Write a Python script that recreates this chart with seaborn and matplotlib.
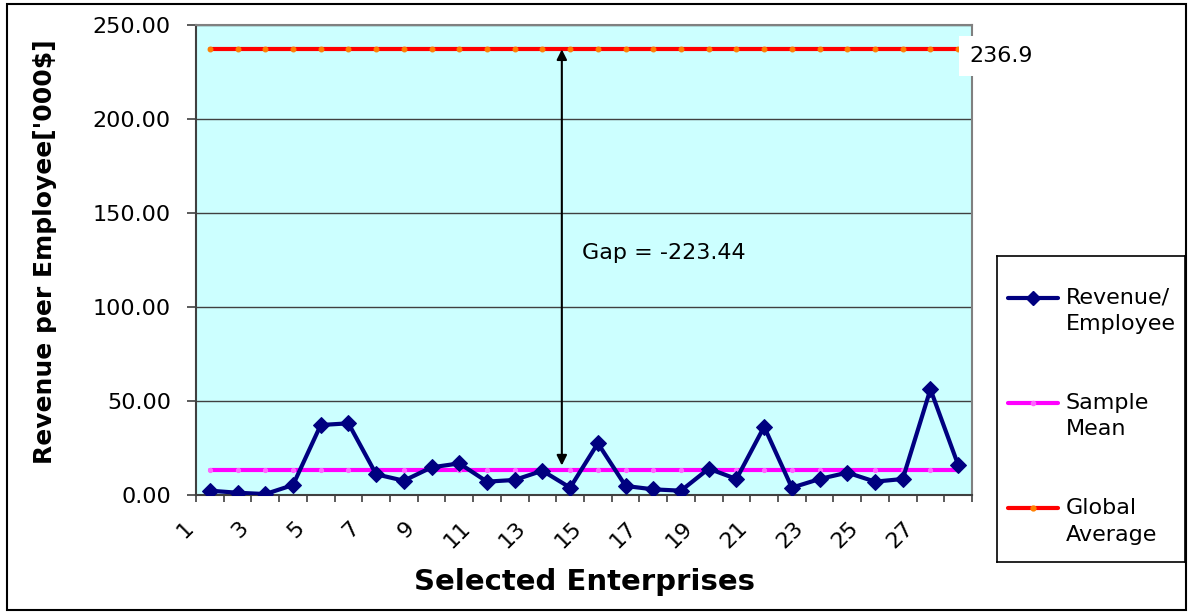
import numpy as np
import pandas as pd
import matplotlib
matplotlib.use("Agg")
import matplotlib.pyplot as plt
import matplotlib.transforms as mtransforms
import seaborn as sns
from matplotlib.patches import Rectangle
from matplotlib.lines import Line2D

# ---- data -------------------------------------------------------------
enterprises = list(range(1, 29))
revenue_per_employee = [2.3, 1.2, 0.5, 5.3, 37.2, 38.1, 11.0, 7.6, 14.7, 16.8,
                        7.1, 8.0, 12.9, 3.9, 27.5, 4.8, 3.0, 2.3, 14.0, 8.5,
                        36.3, 3.9, 8.5, 11.9, 7.1, 8.5, 56.2, 16.0]
sample_mean = 13.46
global_average = 236.9
gap = round(sample_mean - global_average, 2)
y_ticks = [0, 50, 100, 150, 200, 250]
series_names = ["Revenue/\nEmployee", "Sample\nMean", "Global\nAverage"]
series_colors = ["#000080", "#FF00FF", "#FF0000"]

df = pd.DataFrame({
    "enterprise": enterprises,
    "revenue": revenue_per_employee,
    "sample_mean": [sample_mean] * len(enterprises),
    "global_average": [global_average] * len(enterprises),
})

# ---- style ------------------------------------------------------------
sns.set_theme(style="ticks")
plt.rcParams["font.family"] = ["DejaVu Sans"]
plt.rcParams.update({"text.color": "black", "axes.labelcolor": "black",
                     "xtick.color": "black", "ytick.color": "black"})

W, H = 1188, 613
fig = plt.figure(figsize=(W / 100, H / 100), dpi=100)
fig.patch.set_facecolor("white")

ax = fig.add_axes([196 / W, (H - 495) / H, 776 / W, 470.3 / H])
ax.set_facecolor("#CCFFFF")

# ---- series -----------------------------------------------------------
sns.lineplot(data=df, x="enterprise", y="global_average", ax=ax,
             color=series_colors[2], lw=3, marker="o", markersize=3.5,
             markerfacecolor="#FF8000", markeredgecolor="#FF8000", zorder=3)
sns.lineplot(data=df, x="enterprise", y="sample_mean", ax=ax,
             color=series_colors[1], lw=3, marker="o", markersize=3,
             markerfacecolor="#FF66FF", markeredgecolor="#FF66FF", zorder=3)
sns.lineplot(data=df, x="enterprise", y="revenue", ax=ax,
             color=series_colors[0], lw=3, marker="D", markersize=8,
             markerfacecolor=series_colors[0], markeredgecolor=series_colors[0],
             zorder=4)

# ---- axes -------------------------------------------------------------
ax.set_xlim(0.5, len(enterprises) + 0.5)
ax.set_ylim(y_ticks[0], y_ticks[-1])
ax.tick_params(axis="x", direction="out", length=5, width=1.2,
               color="#404040", pad=16.5, labelcolor="black")
ax.tick_params(axis="y", direction="out", length=6.5, width=1.2,
               color="#404040", pad=11.5, labelcolor="black")

ax.set_yticks(y_ticks)
ax.set_yticklabels([f"{v:.2f}" for v in y_ticks], fontsize=16)
ax.yaxis.grid(True, color="#404040", lw=1)
ax.set_axisbelow(True)

# category boundaries carry the tick marks; every other one is labelled
boundaries = [e - 0.5 for e in enterprises] + [enterprises[-1] + 0.5]
xlabels = [str(e) if (e - 1) % 2 == 0 and e <= 27 else "" for e in
           enterprises + [enterprises[-1] + 1]]
ax.set_xticks(boundaries)
ax.set_xticklabels(xlabels, fontsize=16, rotation=45, ha="right",
                   va="center", rotation_mode="anchor")
shift = mtransforms.ScaledTranslation(-6 / 100, 0, fig.dpi_scale_trans)
for lbl in ax.get_xticklabels():
    lbl.set_transform(lbl.get_transform() + shift)

for side in ["left", "bottom"]:
    ax.spines[side].set_color("#404040")
    ax.spines[side].set_linewidth(1.5)
for side in ["top", "right"]:
    ax.spines[side].set_color("#808080")
    ax.spines[side].set_linewidth(1.5)

ax.set_xlabel("Selected Enterprises", fontsize=21, fontweight="bold",
              color="black")
ax.set_ylabel("Revenue per Employee['000$]", fontsize=18, fontweight="bold",
              color="black")
ax.xaxis.set_label_coords(0.5, -0.155)
ax.yaxis.set_label_coords(-0.179, 0.517)

# ---- annotations ------------------------------------------------------
ax.annotate("", xy=(13.7, global_average), xytext=(13.7, sample_mean),
            arrowprops=dict(arrowstyle="<|-|>", color="black", lw=1.5,
                            mutation_scale=15, shrinkA=3, shrinkB=0),
            zorder=5)
ax.text(14.43, 128.4, f"Gap = {gap:.2f}", fontsize=16, va="center",
        ha="left", color="black")
ax.annotate(f"{global_average}", xy=(1, global_average),
            xycoords=("axes fraction", "data"), xytext=(-2, -4.5),
            textcoords="offset points", ha="left", va="center", fontsize=16,
            color="black",
            bbox=dict(boxstyle="square,pad=0.45", fc="white", ec="none"),
            annotation_clip=False, zorder=6)

# ---- legend -----------------------------------------------------------
lax = fig.add_axes([997 / W, 51 / H, 188 / W, 306 / H])
lax.set_xlim(0, 1)
lax.set_ylim(0, 1)
lax.set_xticks([])
lax.set_yticks([])
lax.set_facecolor("white")
for sp in lax.spines.values():
    sp.set_color("black")
    sp.set_linewidth(1.2)

entry_y = [0.863, 0.52, 0.176]
marker_specs = [("D", 7, series_colors[0]), ("o", 3, "#FF66FF"), ("o", 3.5, "#FF8000")]
for name, color, y, (mk, ms, mc) in zip(series_names, series_colors, entry_y, marker_specs):
    lax.add_line(Line2D([0.0585, 0.324], [y, y], color=color, lw=3))
    lax.add_line(Line2D([0.191], [y], marker=mk, markersize=ms, color=mc,
                        markeredgecolor=mc, lw=0))
    first, second = name.split("\n")
    lax.text(0.367, y, first, fontsize=16, va="center", ha="left", color="black")
    lax.text(0.367, y - 26.5 / 306, second, fontsize=16, va="center", ha="left",
             color="black")

# ---- outer frame ------------------------------------------------------
fig.patches.append(Rectangle((7 / W, 3 / H), (1186 - 7) / W, (609 - 3) / H,
                             transform=fig.transFigure, fill=False,
                             ec="black", lw=1.5))

fig.savefig("out.png", dpi=100)
